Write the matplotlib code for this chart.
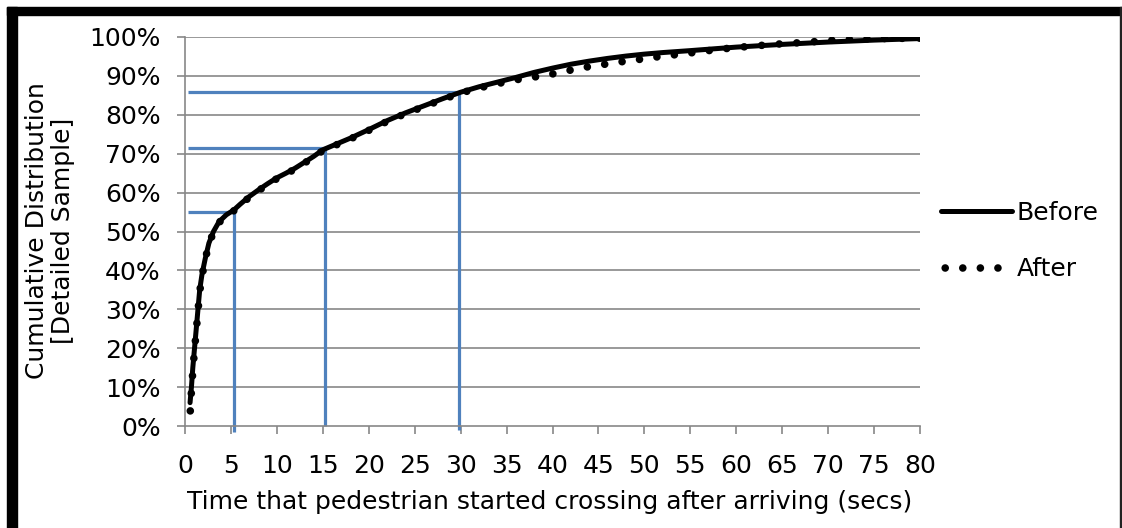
import matplotlib.pyplot as plt
from matplotlib.patches import Rectangle

# Before curve (secs, cumulative %)
before_x = [0.55, 0.7, 0.85, 1.0, 1.15, 1.3, 1.45, 1.6, 1.85, 2.2, 2.6, 3.1, 3.7, 4.5, 5.3,
            6, 7, 8, 9, 10, 11, 12, 13, 14, 15, 16, 18, 20, 22, 24, 26, 28, 30,
            32, 34, 36, 38, 40, 42, 44, 46, 48, 50, 52, 55, 60, 65, 70, 75, 80]
before_y = [6, 10, 15, 19, 23, 27, 31, 35, 39, 43, 47, 50, 52.5, 54.3, 55.5,
            57, 59, 60.7, 62.3, 63.8, 65, 66.3, 67.8, 69.3, 71, 72, 74, 76.2, 78.5, 80.5, 82.3, 84.1, 85.8,
            87.2, 88.4, 89.6, 90.9, 92.0, 93.0, 93.8, 94.5, 95.1, 95.6, 96.0, 96.5, 97.4, 98.1, 98.7, 99.2, 99.6]

# After curve
after_x = [0.55, 0.7, 0.85, 1.0, 1.15, 1.3, 1.45, 1.6, 1.85, 2.2, 2.6, 3.1, 3.7, 4.5, 5.3,
           6, 7, 8, 9, 10, 11, 12, 13, 14, 15, 16, 18, 20, 22, 24, 26, 28, 30,
           32, 34, 36, 38, 40, 42, 44, 46, 48, 50, 52, 54, 56, 58, 60, 62, 64, 66, 68, 70, 72, 76, 80]
after_y = [2.8, 9, 14, 18.5, 22.5, 26.5, 30.5, 34.5, 38.5, 42.8, 46.8, 49.8, 52.3, 54.1, 55.3,
           56.8, 58.8, 60.5, 62.1, 63.6, 64.8, 66.1, 67.6, 69.1, 70.8, 71.8, 73.8, 76.0, 78.3, 80.3, 82.1, 83.9, 85.6,
           86.9, 88.0, 89.0, 89.7, 90.5, 91.5, 92.4, 93.1, 93.8, 94.4, 95.1, 95.6, 96.2, 96.8, 97.3, 97.7, 98.1,
           98.4, 98.7, 99.1, 99.4, 99.6, 99.7]

# guide lines: (time, percent)
guide_x = [5.3, 15.2, 29.8]
guide_y = [55.1, 71.5, 85.9]
guide_bottom = [-1.6, 0, -1.0]

plt.rcParams['font.family'] = 'DejaVu Sans'
fs = 18

fig = plt.figure(figsize=(11.22, 5.28), dpi=100)
ax = fig.add_axes([185 / 1122, 1 - 426 / 528, (920 - 185) / 1122, (426 - 37) / 528])

grid_col = '#878787'
for yv in range(10, 101, 10):
    ax.axhline(yv, color=grid_col, lw=1.2, zorder=1)

blue = '#4F81BD'
for gx, gy, gb in zip(guide_x, guide_y, guide_bottom):
    ax.plot([0.3, gx], [gy, gy], color=blue, lw=2.3, zorder=2, clip_on=False,
            solid_capstyle='butt')
    ax.plot([gx, gx], [gy, gb], color=blue, lw=2.3, zorder=2, clip_on=False,
            solid_capstyle='butt')

ax.plot(before_x, before_y, color='black', lw=3.6, zorder=4, label='Before',
        solid_capstyle='round', solid_joinstyle='round')
ax.plot(after_x, after_y, color='black', lw=5.5, zorder=3, label='After',
        linestyle=(1.75, (0.001, 2.3)), dash_capstyle='round')

ax.set_xlim(0, 80)
ax.set_ylim(0, 100)
ax.set_xticks(range(0, 81, 5))
ax.set_yticks(range(0, 101, 10))
ax.set_yticklabels([f'{v}%' for v in range(0, 101, 10)])

for s in ['top', 'right']:
    ax.spines[s].set_visible(False)
for s in ['left', 'bottom']:
    ax.spines[s].set_color(grid_col)
    ax.spines[s].set_linewidth(1.2)

ax.tick_params(axis='both', colors=grid_col, labelcolor='black', labelsize=fs,
               length=5.5, width=1.2)
ax.tick_params(axis='x', pad=15)
ax.tick_params(axis='y', pad=12)

fig.text(550 / 1122, 1 - 502 / 528,
         'Time that pedestrian started crossing after arriving (secs)',
         ha='center', va='center', fontsize=fs)
fig.text(50 / 1122, 1 - 231 / 528, 'Cumulative Distribution\n[Detailed Sample]',
         ha='center', va='center', rotation=90, fontsize=fs, linespacing=1.1)

ax.legend(loc='center left', bbox_to_anchor=(928 / 1122, 1 - 241 / 528),
          bbox_transform=fig.transFigure, frameon=False, fontsize=fs,
          handlelength=2.85, handletextpad=0.2, labelspacing=1.3, borderpad=0)

# outer frame
fig.patches.append(Rectangle((7 / 1122, 0), 10 / 1122, 1 - 7 / 528,
                             transform=fig.transFigure, color='black', zorder=10))
fig.patches.append(Rectangle((7 / 1122, 1 - 15 / 528), 1 - 7 / 1122, 8 / 528,
                             transform=fig.transFigure, color='black', zorder=10))
fig.patches.append(Rectangle((1 - 2 / 1122, 0), 2 / 1122, 1 - 7 / 528,
                             transform=fig.transFigure, color='#222222', zorder=10))

fig.savefig('out.png', dpi=100)
